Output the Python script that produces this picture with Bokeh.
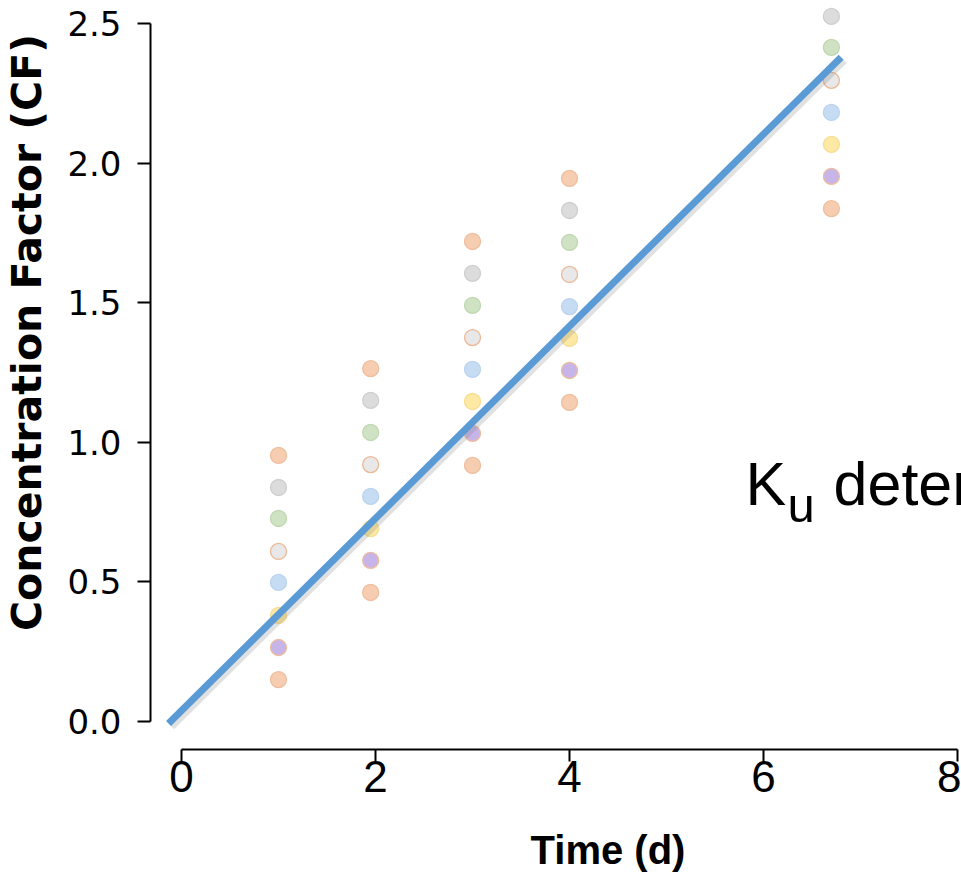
import math
from bokeh.plotting import figure
from bokeh.models import Range1d, FixedTicker, PrintfTickFormatter, Label, ColumnDataSource
from bokeh.transform import dodge
from bokeh.embed import file_html
from bokeh.resources import INLINE

# ---- data ----
times = [1.0, 1.95, 3.0, 4.0, 6.7]
cf_orange_hi = [0.953, 1.264, 1.719, 1.945, math.nan]
cf_gray = [0.838, 1.150, 1.605, 1.830, 2.525]
cf_green = [0.727, 1.035, 1.490, 1.716, 2.414]
cf_lightgray = [0.609, 0.920, 1.375, 1.601, 2.296]
cf_blue = [0.498, 0.806, 1.261, 1.486, 2.181]
cf_yellow = [0.380, 0.691, 1.146, 1.372, 2.067]
cf_purple = [0.265, 0.577, 1.032, 1.257, 1.952]
cf_orange_lo = [0.150, 0.462, 0.917, 1.143, 1.837]

fit_x = [-0.134, 6.80]
fit_y = [-0.007, 2.379]

x_ticks = [0, 2, 4, 6, 8]
y_ticks = [0.0, 0.5, 1.0, 1.5, 2.0, 2.5]

p = figure(width=961, height=877, output_backend="svg", toolbar_location=None,
           title=None,
           x_range=Range1d(-1.866, 8.041), y_range=Range1d(-0.5587, 2.582),
           min_border=0)
p.xgrid.visible = False
p.ygrid.visible = False
p.outline_line_color = None
p.background_fill_color = "white"

for ax in (p.xaxis, p.yaxis):
    ax.axis_line_width = 2
    ax.axis_line_color = "black"
    ax.major_tick_line_width = 2
    ax.major_tick_line_color = "black"
    ax.major_tick_in = 0
    ax.minor_tick_line_color = None
    ax.major_label_text_color = "black"

# offset axes (R-style), placed at fixed positions
p.xaxis.fixed_location = -0.1003
p.xaxis.bounds = (0, 8)
p.xaxis.ticker = FixedTicker(ticks=x_ticks)
p.xaxis.major_tick_out = 12
p.xaxis.major_label_text_font = "Liberation Sans"
p.xaxis.major_label_text_font_size = "44px"
p.xaxis.major_label_standoff = 0

p.yaxis.fixed_location = -0.3196
p.yaxis.bounds = (0, 2.5)
p.yaxis.ticker = FixedTicker(ticks=y_ticks)
p.yaxis.formatter = PrintfTickFormatter(format="%.1f")
p.yaxis.major_tick_out = 13
p.yaxis.major_label_text_font = "DejaVu Sans"
p.yaxis.major_label_text_font_size = "34px"
p.yaxis.major_label_standoff = 16

series = [
    (cf_orange_hi, "#F6CDB0", "#EFBE9E"),
    (cf_gray, "#DCDCDC", "#CFCFCF"),
    (cf_green, "#CFE2C4", "#C0D8B2"),
    (cf_lightgray, "#E8E8E8", "#EDB896"),
    (cf_blue, "#C6DCF2", "#BAD3EE"),
    (cf_yellow, "#FDE9A3", "#F6DE92"),
    (cf_purple, "#C7B5EA", "#EDBC9C"),
    (cf_orange_lo, "#F6CDB0", "#EFBE9E"),
]
for vals, fill, edge in series:
    p.scatter(times, vals, size=16, fill_color=fill, line_color=edge, line_width=1.3)

src = ColumnDataSource(dict(x=fit_x, y=fit_y))
p.line(x=dodge("x", 0.025, range=p.x_range), y=dodge("y", -0.009, range=p.y_range),
       source=src, line_width=9, color="#777777", alpha=0.22)
p.line(x="x", y="y", source=src, line_width=7, color="#5B9BD5")

# axis titles
p.add_layout(Label(x=4.397, y=-0.460, text="Time (d)", text_align="center",
                   text_baseline="alphabetic", text_font="Liberation Sans",
                   text_font_style="bold", text_font_size="40px", text_color="black"))
p.add_layout(Label(x=-1.588, y=1.393, text="Concentration Factor (CF)", angle=math.pi / 2,
                   text_align="center", text_baseline="alphabetic", text_font="DejaVu Sans",
                   text_font_style="bold", text_font_size="41px", text_color="black"))

# K_u annotation (cut at the right edge as in the reference)
p.add_layout(Label(x=5.814, y=0.849, text="K", text_align="left", text_baseline="alphabetic",
                   text_font="Liberation Sans", text_font_size="61px", text_color="black"))
p.add_layout(Label(x=6.247, y=0.776, text="u", text_align="left", text_baseline="alphabetic",
                   text_font="Liberation Sans", text_font_size="49px", text_color="black"))
p.add_layout(Label(x=6.722, y=0.849, text="determination", text_align="left",
                   text_baseline="alphabetic", text_font="Liberation Sans",
                   text_font_size="61px", text_color="black"))

open("out.html", "w").write(file_html(p, INLINE))
